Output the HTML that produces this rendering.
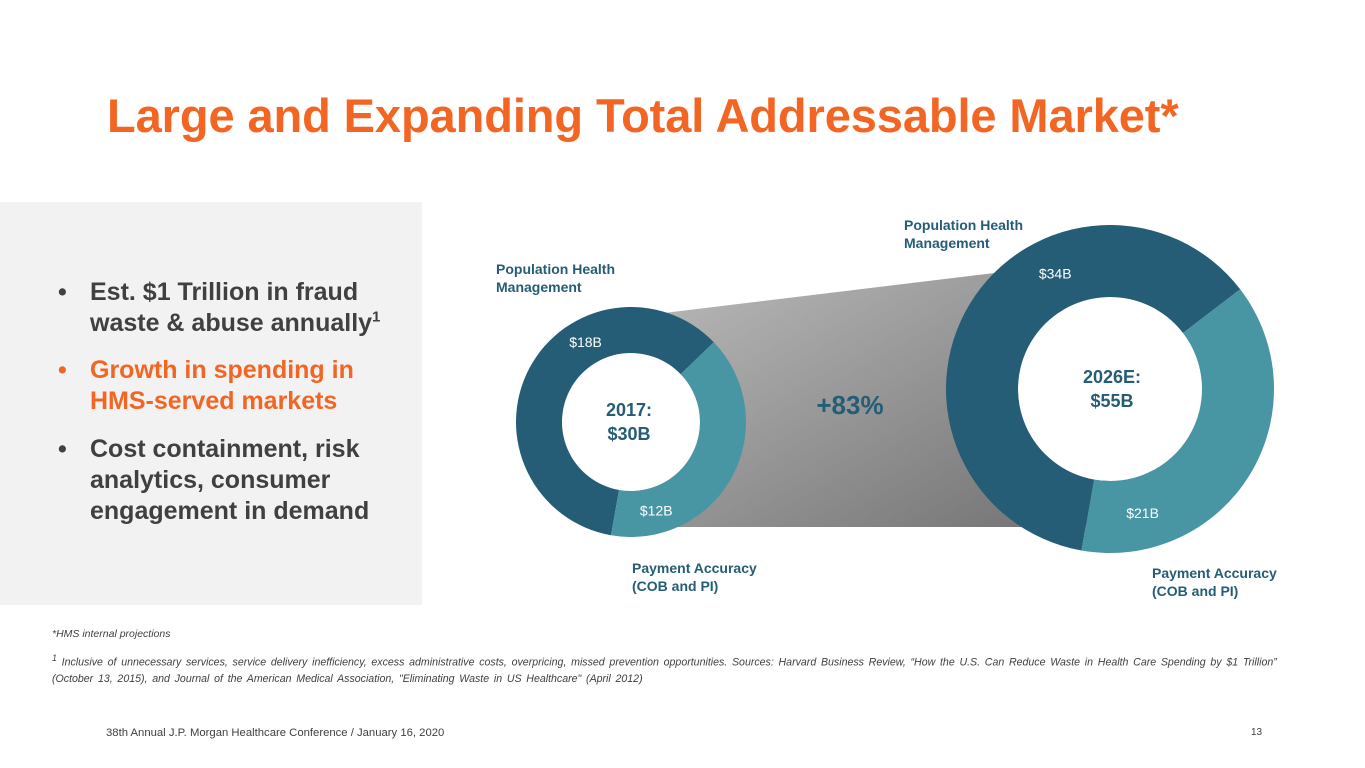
<!DOCTYPE html>
<html><head><meta charset="utf-8"><style>
body{margin:0;width:1365px;height:768px;overflow:hidden;background:#fff;font-family:"Liberation Sans",Arial,sans-serif;position:relative}
.a{position:absolute}
.t{left:107px;top:88px;font-size:47px;font-weight:bold;color:#f26522;letter-spacing:-0.1px;white-space:nowrap}
.box{left:0;top:202px;width:422px;height:403px;background:#f2f2f2}
.b{font-size:25px;font-weight:bold;color:#404040;line-height:31px;left:90px;width:330px}
.b .d{position:absolute;left:-32px;top:0}
.lab{font-size:14px;font-weight:bold;color:#245d75;line-height:18px}
.fn{font-size:10.5px;font-style:italic;color:#404040;line-height:16px}
</style></head><body>
<div class="a t">Large and Expanding Total Addressable Market*</div>
<div class="a box"></div>
<div class="a b" style="top:277px"><span class="d">•</span>Est. $1 Trillion in fraud<br>waste &amp; abuse annually<sup style="font-size:15px;line-height:0">1</sup></div>
<div class="a b" style="top:355px;color:#f26522"><span class="d">•</span>Growth in spending in<br>HMS-served markets</div>
<div class="a b" style="top:434px"><span class="d">•</span>Cost containment, risk<br>analytics, consumer<br>engagement in demand</div>
<svg class="a" style="left:0;top:0" width="1365" height="768">
<defs><linearGradient id="g" x1="0" y1="0" x2="1" y2="1"><stop offset="0" stop-color="#bdbdbd"/><stop offset="1" stop-color="#707070"/></linearGradient></defs>
<polygon points="631,317 1110,259 1110,527 631,527" fill="url(#g)"/>
<g id="donuts"></g>
<text x="850" y="414" font-size="26" font-weight="bold" fill="#245d75" text-anchor="middle">+83%</text>
</svg>
<div class="a lab" style="left:496px;top:260px">Population Health<br>Management</div>
<div class="a lab" style="left:904px;top:216px">Population Health<br>Management</div>
<div class="a lab" style="left:632px;top:559px">Payment Accuracy<br>(COB and PI)</div>
<div class="a lab" style="left:1152px;top:564px">Payment Accuracy<br>(COB and PI)</div>
<div class="a fn" style="left:52px;top:626px">*HMS internal projections</div>
<div class="a fn" style="left:52px;top:650px;width:1238px;font-size:10.6px;word-spacing:1.8px"><sup>1</sup> Inclusive of unnecessary services, service delivery inefficiency, excess administrative costs, overpricing, missed prevention opportunities. Sources: Harvard Business Review, “How the U.S. Can Reduce Waste in Health Care Spending by $1 Trillion” (October 13, 2015), and Journal of the American Medical Association, "Eliminating Waste in US Healthcare" (April 2012)</div>
<div class="a" style="left:106px;top:727px;font-size:11.3px;color:#404040">38th Annual J.P. Morgan Healthcare Conference / January 16, 2020</div>
<div class="a" style="left:1251px;top:727px;font-size:10px;color:#404040">13</div>
<script>
const years=["2017","2026E"];
const totals=["$30B","$55B"];
const phmValues=[18,34];
const paValues=[12,21];
const phmLabels=["$18B","$34B"];
const paLabels=["$12B","$21B"];
const geo=[{cx:631,cy:422,r:115,ri:69},{cx:1110,cy:389,r:164,ri:92}];
const NS="http://www.w3.org/2000/svg";
const g=document.getElementById('donuts');
function pt(cx,cy,r,a){const t=a*Math.PI/180;return [cx+r*Math.sin(t),cy-r*Math.cos(t)];}
function arc(c,a0,a1){const L=a1-a0>180?1:0;const p0=pt(c.cx,c.cy,c.r,a0),p1=pt(c.cx,c.cy,c.r,a1),q1=pt(c.cx,c.cy,c.ri,a1),q0=pt(c.cx,c.cy,c.ri,a0);
return `M${p0}A${c.r},${c.r} 0 ${L} 1 ${p1}L${q1}A${c.ri},${c.ri} 0 ${L} 0 ${q0}Z`;}
function txt(x,y,s,size,bold,fill){const t=document.createElementNS(NS,'text');t.setAttribute('x',x);t.setAttribute('y',y);t.setAttribute('font-size',size);if(bold)t.setAttribute('font-weight','bold');t.setAttribute('fill',fill);t.setAttribute('text-anchor','middle');t.textContent=s;g.appendChild(t);return t;}
years.forEach((yr,i)=>{
 const c=geo[i];const tot=phmValues[i]+paValues[i];const start=190;
 const mid=start+phmValues[i]/tot*360;
 const hole=document.createElementNS(NS,'circle');hole.setAttribute('cx',c.cx);hole.setAttribute('cy',c.cy);hole.setAttribute('r',c.ri);hole.setAttribute('fill','#fff');
 
 
 g.appendChild(hole);
 const segs=[[start,mid,'#245d75','phm'],[mid,start+360,'#4896a4','pa']];
 segs.forEach(s=>{const p=document.createElementNS(NS,'path');p.setAttribute('d',arc(c,s[0],s[1]));p.setAttribute('fill',s[2]);
  
  
  g.appendChild(p);});
 const rm=(c.r+c.ri)/2;
 const a1=pt(c.cx,c.cy,rm,start+phmValues[i]/tot*360*0.65);
 const l1=txt(a1[0],a1[1]+5,phmLabels[i],14,false,'#fff');
 
 
 const a2=pt(c.cx,c.cy,rm,mid+paValues[i]/tot*360*0.82);
 const l2=txt(a2[0],a2[1]+5,paLabels[i],14,false,'#fff');
 
 
 const c1=txt(c.cx-(i?-2:2),c.cy-6,yr+':',18,true,'#245d75');
 
 
 const c2=txt(c.cx-(i?-2:2),c.cy+18,totals[i],18,true,'#245d75');
 
 
});
</script>
</body></html>
